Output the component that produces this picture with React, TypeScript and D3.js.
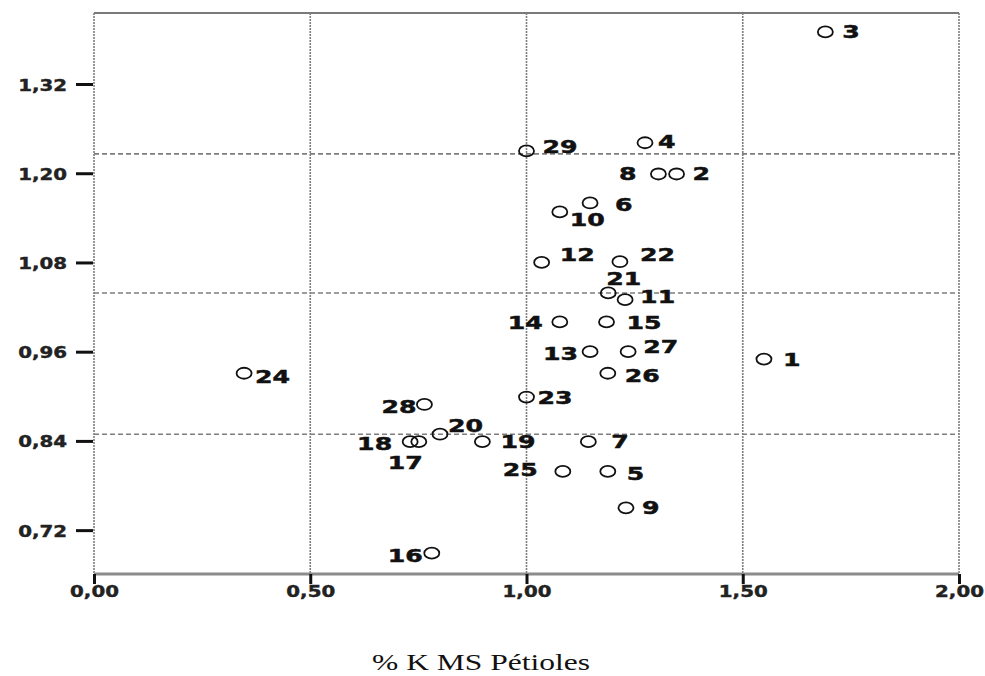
import React, { useRef, useEffect } from 'react';
import * as d3 from 'd3';

// observation numbers and their values (x: % K MS pétioles)
const pointIds = [1, 2, 3, 4, 5, 6, 7, 8, 9, 10, 11, 12, 13, 14, 15, 16, 17, 18, 19, 20, 21, 22, 23, 24, 25, 26, 27, 28, 29];
const kPetioles = [1.549, 1.347, 1.691, 1.274, 1.188, 1.147, 1.143, 1.305, 1.23, 1.077, 1.228, 1.035, 1.147, 1.077, 1.185, 0.781, 0.751, 0.731, 0.898, 0.8, 1.189, 1.216, 1.0, 0.347, 1.084, 1.188, 1.235, 0.764, 1.0];
const yValues = [0.95, 1.199, 1.39, 1.241, 0.799, 1.16, 0.839, 1.199, 0.75, 1.148, 1.03, 1.08, 0.96, 1.0, 1.0, 0.689, 0.839, 0.839, 0.839, 0.849, 1.039, 1.081, 0.899, 0.931, 0.799, 0.931, 0.96, 0.889, 1.23];

const xTicks = [0, 0.5, 1.0, 1.5, 2.0];
const yTicks = [0.72, 0.84, 0.96, 1.08, 1.2, 1.32];
const refX = [0.5, 1.0, 1.5];
const refY = [1.226, 1.039, 0.849];
const xTitle = '% K MS Pétioles';

// where SPSS put each point's label: [dx, dy, anchor]
const labelPlace: Record<number, [number, number, string]> = {
  1: [19, 0, 'start'], 2: [16, 0, 'start'], 3: [17, 0, 'start'], 4: [13, -1, 'start'],
  5: [19, 2, 'start'], 6: [25, 2, 'start'], 7: [23, 0, 'start'], 8: [-22, 0, 'end'],
  9: [16, 0, 'start'], 10: [10, 8, 'start'], 11: [15, -3, 'start'], 12: [18, -8, 'start'],
  13: [-12, 2, 'end'], 14: [-17, 1, 'end'], 15: [20, 1, 'start'], 16: [-9, 2, 'end'],
  17: [-31, 21, 'start'], 18: [-18, 2, 'end'], 19: [18, 0, 'start'], 20: [8, -9, 'start'],
  21: [-2, -14, 'start'], 22: [20, -7, 'start'], 23: [11, 0, 'start'], 24: [11, 3, 'start'],
  25: [-25, -2, 'end'], 26: [17, 2, 'start'], 27: [15, -5, 'start'], 28: [-8, 2, 'end'],
  29: [16, -4, 'start'],
};

export default function App() {
  const svgRef = useRef<SVGSVGElement>(null);

  useEffect(() => {
    const width = 985;
    const height = 676;
    const left = 94, right = 959, top = 13, bottom = 574;

    const svg = d3.select(svgRef.current);
    svg.selectAll('*').remove();

    const x = d3.scaleLinear().domain([0, 2]).range([left, right]);
    const y = d3.scaleLinear().domain([0.661, 1.4155]).range([bottom, top]);
    const fmt = (v: number) => d3.format('.2f')(v).replace('.', ',');

    svg.append('rect').attr('width', width).attr('height', height).attr('fill', '#fff');

    // frame: top solid, sides dotted
    svg.append('line')
      .attr('x1', left).attr('x2', right).attr('y1', top).attr('y2', top)
      .attr('stroke', '#7a7a7a').attr('stroke-width', 2);
    [left, right].forEach(px => {
      svg.append('line')
        .attr('x1', px).attr('x2', px).attr('y1', top).attr('y2', bottom)
        .attr('stroke', '#7e7e7e').attr('stroke-width', 1.6).attr('stroke-dasharray', '2,1');
    });

    // reference lines
    svg.append('g').selectAll('line').data(refX).enter().append('line')
      .attr('x1', d => x(d)).attr('x2', d => x(d)).attr('y1', top).attr('y2', bottom)
      .attr('stroke', '#7e7e7e').attr('stroke-width', 1.6).attr('stroke-dasharray', '2,1');
    svg.append('g').selectAll('line').data(refY).enter().append('line')
      .attr('x1', left).attr('x2', right).attr('y1', d => y(d)).attr('y2', d => y(d))
      .attr('stroke', '#7e7e7e').attr('stroke-width', 1.6).attr('stroke-dasharray', '5,3');

    // y axis
    const yAxis = svg.append('g')
      .attr('transform', `translate(${left - 1},0)`)
      .call(d3.axisLeft(y).tickValues(yTicks).tickSize(17).tickFormat(d => fmt(+d)));
    yAxis.select('.domain').remove();
    yAxis.selectAll('.tick line').attr('stroke', '#111').attr('stroke-width', 3);
    yAxis.selectAll('.tick text')
      .attr('x', null).attr('dy', null)
      .attr('transform', 'translate(-26,6) scale(1.32,1)')
      .attr('fill', '#222').attr('stroke', '#222').attr('stroke-width', 0.4)
      .style('font-family', 'DejaVu Sans').style('font-weight', 'bold').style('font-size', '15px');

    // x axis
    svg.append('line')
      .attr('x1', left).attr('x2', right).attr('y1', bottom).attr('y2', bottom)
      .attr('stroke', '#8c8c8c').attr('stroke-width', 3);
    const xAxis = svg.append('g')
      .attr('transform', `translate(0,${bottom})`)
      .call(d3.axisBottom(x).tickValues(xTicks).tickSize(10).tickFormat(d => fmt(+d)));
    xAxis.select('.domain').remove();
    xAxis.selectAll('.tick line').attr('stroke', '#111').attr('stroke-width', 3);
    xAxis.selectAll('.tick text')
      .attr('y', null).attr('dy', null)
      .attr('transform', 'translate(0,23) scale(1.32,1)')
      .attr('fill', '#222').attr('stroke', '#222').attr('stroke-width', 0.4)
      .style('font-family', 'DejaVu Sans').style('font-weight', 'bold').style('font-size', '15px');

    // points
    const pts = pointIds.map((id, i) => ({ id, vx: kPetioles[i], vy: yValues[i] }));
    svg.append('g').selectAll('ellipse').data(pts).enter().append('ellipse')
      .attr('cx', d => x(d.vx)).attr('cy', d => y(d.vy))
      .attr('rx', 7.5).attr('ry', 5.5)
      .attr('fill', 'none').attr('stroke', '#111').attr('stroke-width', 1.8);

    svg.append('g').selectAll('text').data(pts).enter().append('text')
      .attr('transform', d => {
        const [dx, dy] = labelPlace[d.id];
        return `translate(${x(d.vx) + dx},${y(d.vy) + dy + 6.5}) scale(1.4,1)`;
      })
      .attr('text-anchor', d => labelPlace[d.id][2])
      .attr('fill', '#111').attr('stroke', '#111').attr('stroke-width', 0.5)
      .style('font-family', 'DejaVu Sans').style('font-weight', 'bold').style('font-size', '18px')
      .text(d => String(d.id));

    // axis title
    svg.append('text')
      .attr('x', 372).attr('y', 670)
      .attr('textLength', 218).attr('lengthAdjust', 'spacingAndGlyphs')
      .attr('fill', '#111')
      .style('font-family', 'Liberation Serif').style('font-size', '23px')
      .text(xTitle);
  }, []);

  return (
    <svg
      ref={svgRef}
      width={985}
      height={676}
      style={{ position: 'absolute', left: 0, top: 0 }}
    />
  );
}
